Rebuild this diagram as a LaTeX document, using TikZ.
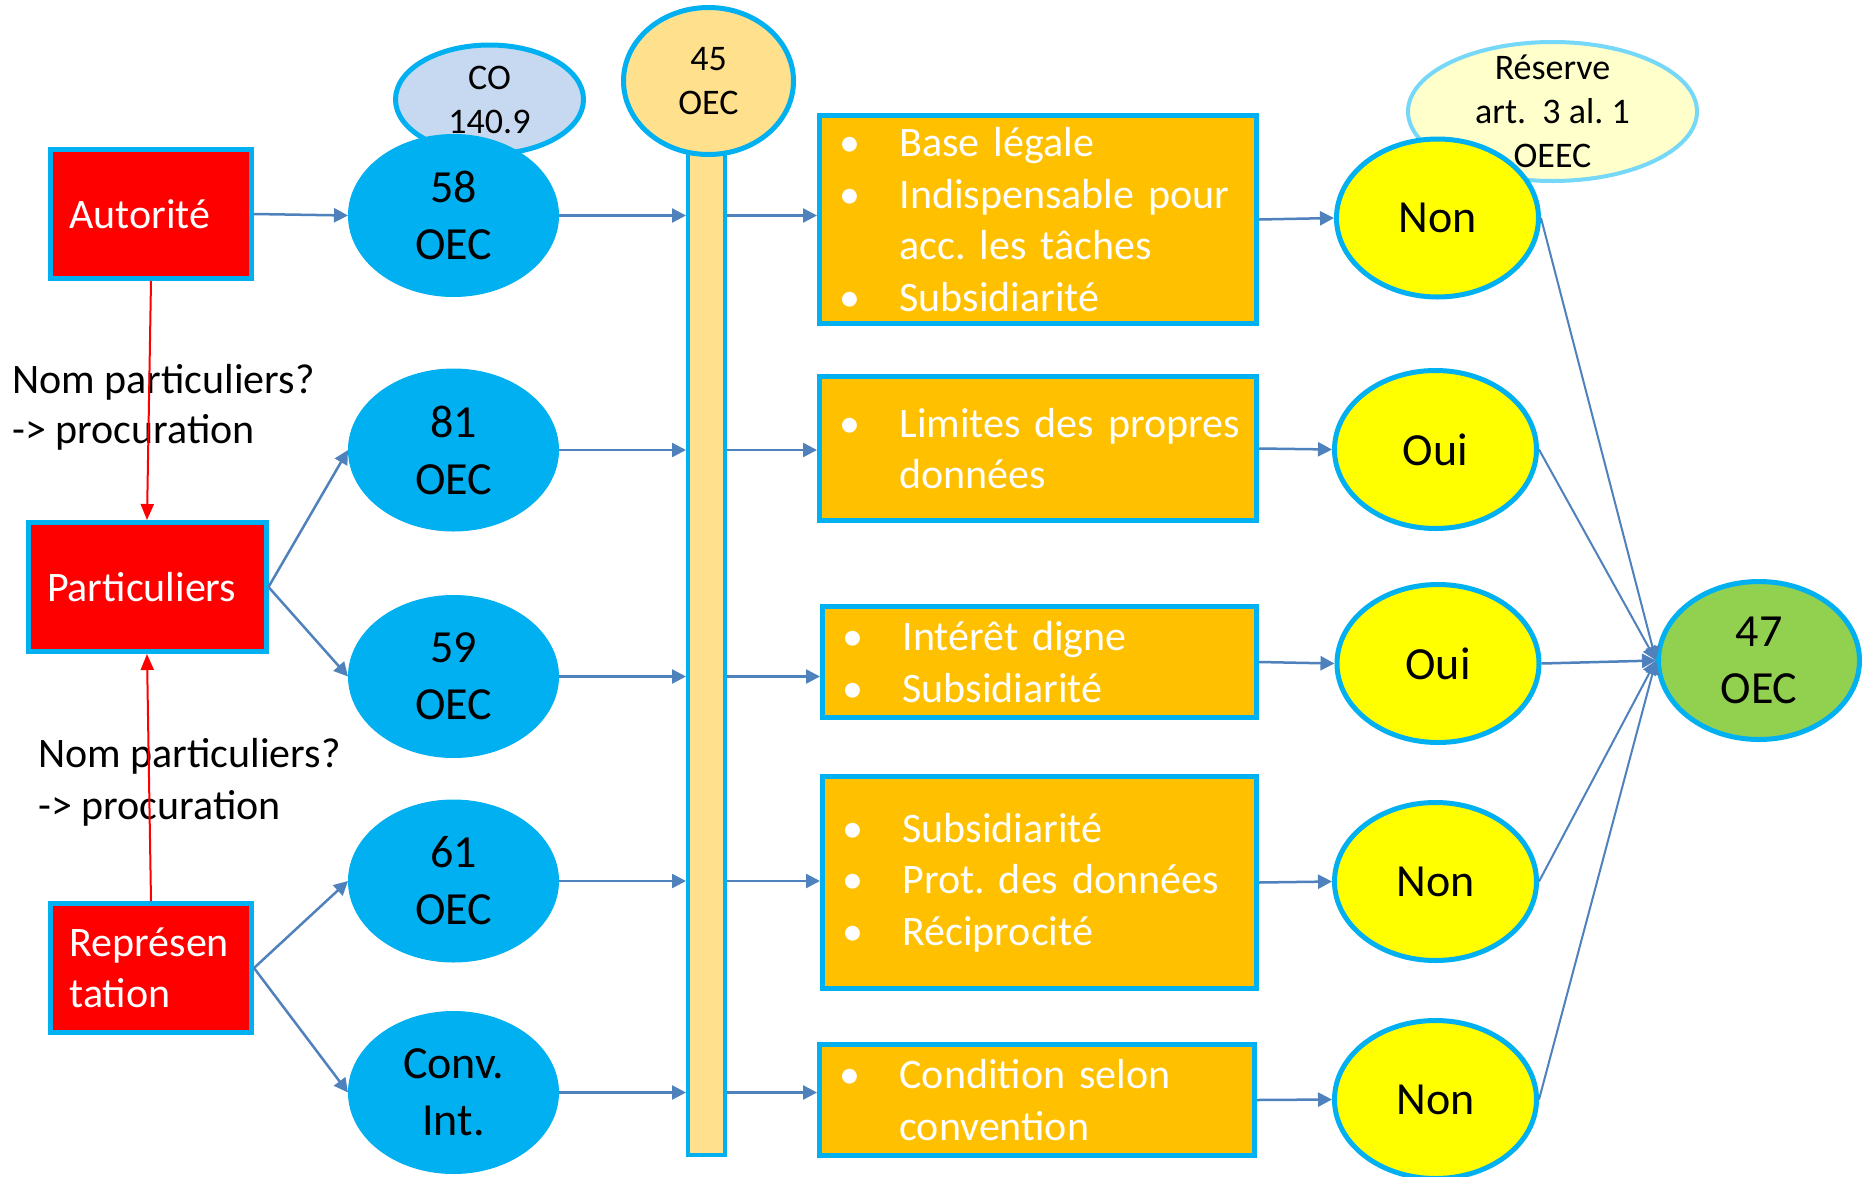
\documentclass[tikz,border=0pt]{standalone}
\usepackage{fontspec}
\setmainfont{Carlito}
\usetikzlibrary{shapes.geometric,arrows.meta}
\definecolor{cyanb}{HTML}{00B0F0}
\definecolor{orangeb}{HTML}{FFC000}
\definecolor{goldl}{HTML}{FFE08C}
\definecolor{costeel}{HTML}{C6D9F1}
\definecolor{resfill}{HTML}{FFFFCC}
\definecolor{resline}{HTML}{75D8F8}
\definecolor{greenb}{HTML}{92D050}
\definecolor{arrowb}{HTML}{4F81BD}
\definecolor{redb}{HTML}{FF0000}
\definecolor{yellb}{HTML}{FFFF00}
\newcommand{\myb}{\makebox[60pt][l]{\textbullet}}
\newcommand{\myi}{\hspace*{60pt}}
\frenchspacing
\tikzset{
  redbox/.style={rectangle, draw=cyanb, line width=5pt, fill=redb, text=white,
    font=\fontsize{42}{51}\selectfont, align=left, inner xsep=19pt, inner ysep=0pt},
  obox/.style={rectangle, draw=cyanb, line width=5pt, fill=orangeb, text=white,
    font=\fontsize{42}{51.5}\selectfont, align=left, inner xsep=20pt, inner ysep=0pt},
  bell/.style={ellipse, fill=cyanb, draw=cyanb, line width=1pt, minimum width=210pt,
    minimum height=162pt, inner sep=0pt, font=\fontsize{46}{57}\selectfont, align=center},
  yell/.style={ellipse, fill=yellb, draw=cyanb, line width=5pt, minimum width=202pt,
    minimum height=158pt, inner sep=0pt, font=\fontsize{46}{57}\selectfont, align=center},
  smallell/.style={ellipse, draw=cyanb, line width=5pt, inner sep=0pt,
    font=\fontsize{36}{44}\selectfont, align=center},
  smalltxt/.style={inner sep=0pt, font=\fontsize{36}{44}\selectfont, align=center},
  lbl/.style={inner sep=0pt, font=\fontsize{42}{51}\selectfont, anchor=base west},
  barst/.style={rectangle, fill=goldl, draw=cyanb, line width=4pt, inner sep=0pt},
  conn/.style={draw=arrowb, line width=2.5pt, -{Triangle[length=14pt,width=14pt]}},
  thinconn/.style={draw=arrowb, line width=2pt, -{Triangle[length=14pt,width=14pt]}},
  redconn/.style={draw=redb, line width=2pt, -{Triangle[length=16pt,width=13pt]}}
}
\begin{document}
\begin{tikzpicture}[x=1pt,y=-1pt]
\useasboundingbox (0,0) rectangle (1864,1176);
\fill[white] (0,0) rectangle (1864,1176);

% top small ellipses and bar
\node[smallell, fill=costeel, minimum width=188pt, minimum height=109pt] (co) at (489.5,99.5) {CO\\140.9};
\node[barst, minimum width=37pt, minimum height=1003pt] (bar) at (706.5,653) {};
\node[smallell, fill=goldl, minimum width=170pt, minimum height=147pt] (e45) at (708.5,81) {45\\OEC};
\node[ellipse, draw=resline, line width=4pt, fill=resfill, inner sep=0pt,
      minimum width=289pt, minimum height=139pt] (res) at (1552.5,111.5) {};

% red boxes
\node[redbox, text width=163pt, minimum width=201pt, minimum height=129pt] (aut) at (151,214) {\mbox{Autorité}};
\node[redbox, text width=200pt, minimum width=238pt, minimum height=129pt] (part) at (147,587) {\mbox{Particuliers}};
\node[redbox, text width=163pt, minimum width=201pt, minimum height=129pt] (rep) at (151,968) {\mbox{Représen}\\\mbox{tation}};

% blue ellipses
\node[bell] (e58) at (453.5,215.5) {58\\OEC};
\node[bell] (e81) at (453.5,450) {81\\OEC};
\node[bell] (e59) at (453.5,676.5) {59\\OEC};
\node[bell] (e61) at (453.5,881) {61\\OEC};
\node[bell] (conv) at (453.5,1092.5) {Conv.\\Int.};

% orange boxes
\node[obox, text width=397pt, minimum width=437pt, minimum height=208pt] (b1) at (1038,219.5)
  {\myb\mbox{Base légale}\\\myb\mbox{Indispensable pour}\\\myi\mbox{acc. les tâches}\\\myb\mbox{Subsidiarité}};
\node[obox, text width=397pt, minimum width=437pt, minimum height=144pt] (b2) at (1038,448.5)
  {\myb\mbox{Limites des propres}\\\myi\mbox{données}};
\node[obox, text width=394pt, minimum width=434pt, minimum height=111pt] (b3) at (1039.5,662)
  {\myb\mbox{Intérêt digne}\\\myb\mbox{Subsidiarité}};
\node[obox, text width=394pt, minimum width=434pt, minimum height=212pt] (b4) at (1039.5,882.5)
  {\myb\mbox{Subsidiarité}\\\myb\mbox{Prot. des données}\\\myb\mbox{Réciprocité}};
\node[obox, text width=395pt, minimum width=435pt, minimum height=111pt] (b5) at (1037,1100)
  {\myb\mbox{Condition selon}\\\myi\mbox{convention}};

% yellow ellipses
\node[yell] (y1) at (1437.5,218) {Non};
\node[smalltxt] (restxt) at (res) {Réserve\\art.\ \ 3 al. 1\\OEEC};
\node[yell] (y2) at (1435.5,449.5) {Oui};
\node[yell] (y3) at (1438,663.5) {Oui};
\node[yell] (y4) at (1435.5,881.5) {Non};
\node[yell] (y5) at (1435.5,1099.5) {Non};

% green result
\node[yell, fill=greenb, minimum width=201pt, minimum height=158pt] (e47) at (1759,660.5) {47\\OEC};

% side labels
\node[lbl] (np1a) at (12,393) {Nom particuliers?};
\node[lbl] (np1b) at (12,443) {-> procuration};
\node[lbl] (np2a) at (38,767) {Nom particuliers?};
\node[lbl] (np2b) at (38,819) {-> procuration};

% connectors: left column
\draw[conn] (aut.east) -- (e58.west);
\draw[conn] (part.east) -- (e81.west);
\draw[conn] (part.east) -- (e59.west);
\draw[conn] (rep.east) -- (e61.west);
\draw[conn] (rep.east) -- (conv.west);

% ellipses to bar
\foreach \e in {e58,e81,e59,e61,conv}{
  \draw[conn] (\e.east) -- (\e.east -| bar.west);
}
% bar to boxes
\draw[conn] (bar.east |- e58.east) -- (b1.west |- e58.east);
\draw[conn] (bar.east |- e81.east) -- (b2.west |- e81.east);
\draw[conn] (bar.east |- e59.east) -- (b3.west |- e59.east);
\draw[conn] (bar.east |- e61.east) -- (b4.west |- e61.east);
\draw[conn] (bar.east |- conv.east) -- (b5.west |- conv.east);

% boxes to answers
\draw[conn] (b1.east) -- (y1.west);
\draw[conn] (b2.east) -- (y2.west);
\draw[conn] (b3.east) -- (y3.west);
\draw[conn] (b4.east) -- (y4.west);
\draw[conn] (b5.east) -- (y5.west);

% answers to 47 OEC
\draw[thinconn] (y1.east) -- (e47.west);
\draw[thinconn] (y2.east) -- (e47.west);
\draw[conn] (y3.east) -- (e47.west);
\draw[thinconn] (y4.east) -- (e47.west);
\draw[thinconn] (y5.east) -- (e47.west);

% red arrows
\draw[redconn] (aut.south) -- (part.north);
\draw[redconn] (rep.north) -- (part.south);
\end{tikzpicture}
\end{document}
